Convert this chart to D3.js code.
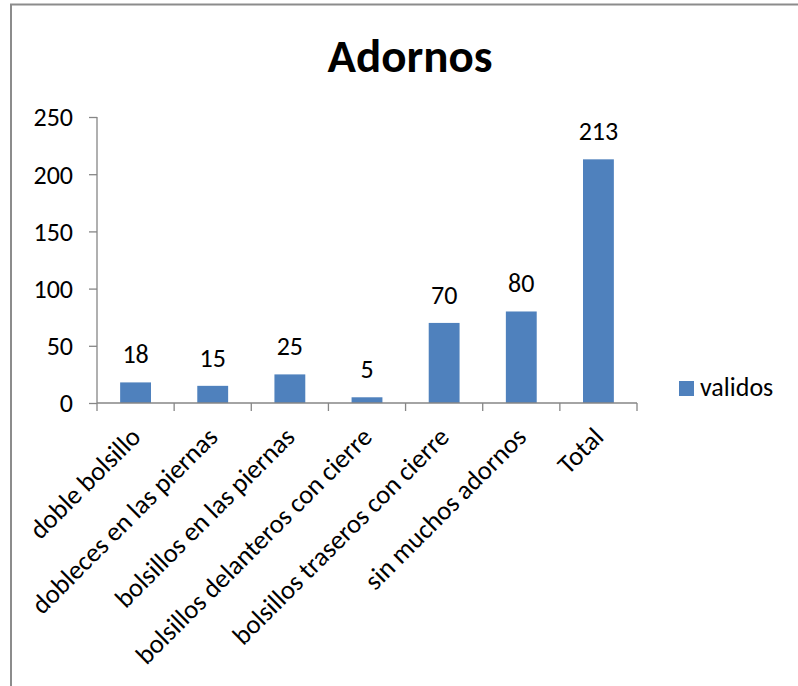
<!DOCTYPE html>
<html>
<head>
<meta charset="utf-8">
<script src="https://cdn.jsdelivr.net/npm/d3@7/dist/d3.min.js"></script>
<style>
  html, body { margin: 0; padding: 0; background: #fff; }
  svg { display: block; }
  text { font-family: Carlito, Calibri, "Open Sans", sans-serif; fill: #000; }
</style>
</head>
<body>
<svg id="chart" width="798" height="686"></svg>
<script>
// Chart data
const categories = [
  "doble bolsillo",
  "dobleces en las piernas",
  "bolsillos en las piernas",
  "bolsillos delanteros con cierre",
  "bolsillos traseros con cierre",
  "sin muchos adornos",
  "Total"
];
const validos = [18, 15, 25, 5, 70, 80, 213];
const yTicks = [0, 50, 100, 150, 200, 250];
const seriesName = "validos";
const chartTitle = "Adornos";

const svg = d3.select("#chart");
const barColor = "#4F81BD";
const axisColor = "#868686";
const fontFamily = "Carlito, Calibri, 'Open Sans', sans-serif";
const labelSize = "26px";

// Outer chart frame (top and left edges)
svg.append("path")
  .attr("d", "M11,686 V4.5 H798")
  .attr("fill", "none")
  .attr("stroke", "#8c8c8c")
  .attr("stroke-width", 2);

const plot = { left: 97, right: 637, top: 117, bottom: 403 };

const x = d3.scaleBand()
  .domain(categories)
  .range([plot.left, plot.right])
  .paddingInner(0.6)
  .paddingOuter(0.3);

const y = d3.scaleLinear()
  .domain([0, 250])
  .range([plot.bottom, plot.top]);

// Title
svg.append("text")
  .attr("x", 410)
  .attr("y", 72)
  .attr("text-anchor", "middle")
  .style("font-size", "47px")
  .style("font-weight", "bold")
  .text(chartTitle);

// Y axis
const yAxis = svg.append("g")
  .attr("transform", `translate(${plot.left},0)`)
  .call(d3.axisLeft(y).tickValues(yTicks).tickSize(8).tickPadding(16));
yAxis.selectAll("path, line").attr("stroke", axisColor).attr("stroke-width", 1.3);
yAxis.select(".domain").attr("d", `M0,${plot.top}V${plot.bottom}`);
yAxis.selectAll("text")
  .style("font-size", labelSize)
  .style("font-family", fontFamily)
  .attr("fill", "#000")
  .attr("dy", "0.34em");

// Bars
svg.append("g").selectAll("rect")
  .data(categories)
  .join("rect")
  .attr("x", d => x(d))
  .attr("width", x.bandwidth())
  .attr("y", (d, i) => y(validos[i]))
  .attr("height", (d, i) => y(0) - y(validos[i]))
  .attr("fill", barColor);

// Value labels
svg.append("g").selectAll("text")
  .data(categories)
  .join("text")
  .attr("x", d => x(d) + x.bandwidth() / 2)
  .attr("y", (d, i) => y(validos[i]) - 19)
  .attr("text-anchor", "middle")
  .style("font-size", labelSize)
  .text((d, i) => validos[i]);

// X axis with tick marks at band boundaries
const boundaries = d3.range(categories.length + 1).map(i => plot.left + i * (plot.right - plot.left) / categories.length);
const xg = svg.append("g");
xg.append("line")
  .attr("x1", plot.left).attr("x2", plot.right)
  .attr("y1", plot.bottom).attr("y2", plot.bottom)
  .attr("stroke", axisColor).attr("stroke-width", 1.3);
xg.selectAll("line.tick")
  .data(boundaries)
  .join("line")
  .attr("class", "tick")
  .attr("x1", d => d).attr("x2", d => d)
  .attr("y1", plot.bottom).attr("y2", plot.bottom + 8)
  .attr("stroke", axisColor).attr("stroke-width", 1.3);

// Rotated category labels
xg.selectAll("text")
  .data(categories)
  .join("text")
  .attr("transform", d => `translate(${x(d) + x.bandwidth() / 2},${plot.bottom + 29}) rotate(-45)`)
  .attr("text-anchor", "end")
  .attr("dy", "0.35em")
  .style("font-size", "26.6px")
  .text(d => d);

// Legend
const legend = svg.append("g").attr("transform", "translate(679,381)");
legend.append("rect")
  .attr("width", 15).attr("height", 15)
  .attr("fill", barColor);
legend.append("text")
  .attr("x", 21).attr("y", 15)
  .style("font-size", labelSize)
  .text(seriesName);
</script>
</body>
</html>
